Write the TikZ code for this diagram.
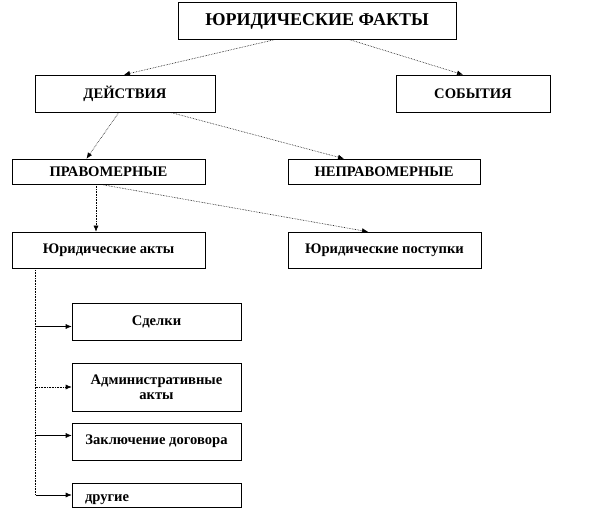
\documentclass[tikz,border=0pt]{standalone}
\usepackage{fontspec}
\setmainfont{Liberation Serif}
\usetikzlibrary{arrows.meta}

\begin{document}
\begin{tikzpicture}[x=1pt,y=-1pt,font=\bfseries\fontsize{14.6}{15}\selectfont,
    >={Latex[length=6pt,width=5pt]}, line width=0.6pt,
    box/.style={rectangle, draw, inner sep=0pt, align=center},
    link/.style={->, densely dotted}]
    \useasboundingbox (0,0) rectangle (612,510);

    \node [box, minimum width=278pt, minimum height=37pt, font=\bfseries\fontsize{18}{20}\selectfont] (facts) at (317,21) {ЮРИДИЧЕСКИЕ ФАКТЫ};
    \node [box, minimum width=180pt, minimum height=37pt] (deeds) at (125,93.5) {ДЕЙСТВИЯ};
    \node [box, minimum width=154pt, minimum height=37pt] (events) at (473,93.5) {СОБЫТИЯ};
    \node [box, minimum width=193pt, minimum height=25pt] (lawful) at (108.5,171.5) {ПРАВОМЕРНЫЕ};
    \node [box, minimum width=192pt, minimum height=25pt] (unlawful) at (384,171.5) {НЕПРАВОМЕРНЫЕ};
    \node [box, minimum width=193pt, minimum height=36pt] (jacts) at (108.5,250) {Юридические акты};
    \node [box, minimum width=193pt, minimum height=36pt] (jdeeds) at (384.5,250) {Юридические поступки};

    \node [box, minimum width=169pt, minimum height=37pt] (deals) at (156.5,321.5) {Сделки};
    \node [box, minimum width=169pt, minimum height=48pt] (admin) at (156.5,387) {Административные\\акты};
    \node [box, minimum width=169pt, minimum height=37pt] (contract) at (156.5,441.5) {Заключение договора};
    \node [box, minimum width=169pt, minimum height=24pt, text width=155pt, text height=12pt, text depth=0pt, align=left] (other) at (156.5,495) {\hspace*{6pt}другие};

    \draw[link] ([xshift=-43pt]facts.south) -- ([xshift=-1pt]deeds.north);
    \draw[link] ([xshift=33pt]facts.south) -- ([xshift=-10pt]events.north);
    \draw[link] ([xshift=-6pt]deeds.south) -- ([xshift=-22pt]lawful.north);
    \draw[link] ([xshift=45pt]deeds.south) -- ([xshift=-40pt]unlawful.north);
    \draw[link] ([xshift=-12.5pt]lawful.south) -- ([xshift=-12.5pt]jacts.north);
    \draw[link] ([xshift=-8.5pt]lawful.south) -- ([xshift=-16.5pt]jdeeds.north);

    \coordinate (spine) at ([xshift=24pt]jacts.south west);
    \draw[densely dotted] (spine) -- (spine |- other.west);
    \draw[->] (spine |- deals.west) ++(0,5) -- ([yshift=-5pt]deals.west);
    \draw[link] (spine |- admin.west) -- (admin.west);
    \draw[->] (spine |- contract.west) ++(0,-6) -- ([yshift=6pt]contract.west);
    \draw[->] (spine |- other.west) -- (other.west);
\end{tikzpicture}
\end{document}
